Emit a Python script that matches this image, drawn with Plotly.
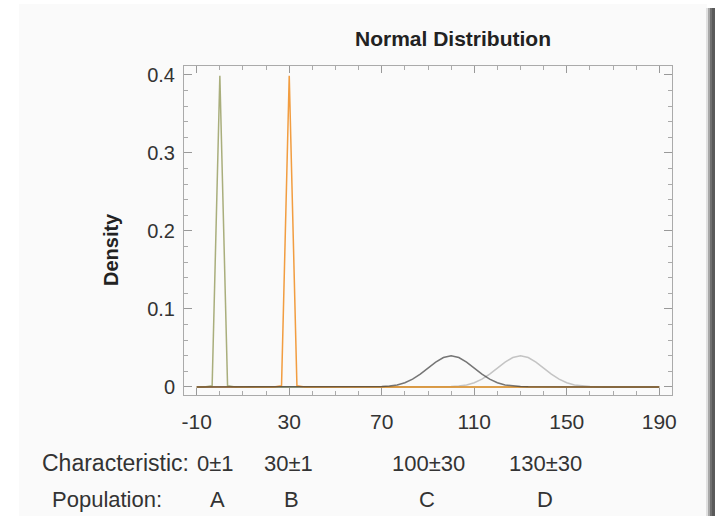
import numpy as np
import plotly.graph_objects as go

# ---- data ----
populations = ["A", "B", "C", "D"]
characteristics = ["0±1", "30±1", "100±30", "130±30"]
means = [0, 30, 100, 130]
sds = [1, 1, 10, 10]
x_start, x_end, n_samples = -10, 190, 61
x_tickvals = [-10, 30, 70, 110, 150, 190]
x_ticktext = ["-10", "30", "70", "110", "150", "190"]
y_tickvals = [0, 0.1, 0.2, 0.3, 0.4]
y_ticktext = ["0", "0.1", "0.2", "0.3", "0.4"]
colors = ["rgba(160,165,110,0.9)", "rgba(240,140,30,0.85)", "rgba(60,60,60,0.7)", "#c4c4c4"]

W, H = 715, 516
L, R, T, B = 184, 43, 66, 121
pw, ph = W - L - R, H - T - B


def px(x):
    return (x - L) / pw


def py(y):
    return (H - B - y) / ph


xs = np.linspace(x_start, x_end, n_samples)
fig = go.Figure()
order = [3, 0, 1, 2]
for i in order:
    m, s = means[i], sds[i]
    dens = np.exp(-0.5 * ((xs - m) / s) ** 2) / (s * np.sqrt(2 * np.pi))
    fig.add_trace(go.Scatter(x=xs, y=dens, mode="lines", name=populations[i],
                             line=dict(color=colors[i], width=1.5),
                             showlegend=False, hoverinfo="skip"))

font_family = "Liberation Sans, Arial, sans-serif"
xtick_font = dict(family=font_family, size=21, color="#333333")
ytick_font = dict(family=font_family, size=20, color="#333333")

fig.update_layout(
    width=W, height=H,
    margin=dict(l=L, r=R, t=T, b=B),
    paper_bgcolor="white",
    plot_bgcolor="#fcfcfc",
    xaxis=dict(range=[-15.5, 195.5], tickvals=x_tickvals, ticktext=x_ticktext, ticks="inside",
               ticklen=7, tickcolor="#999999", showline=True, linecolor="#aaaaaa",
               linewidth=1, mirror="ticks", showgrid=False, zeroline=False,
               tickfont=xtick_font, ticklabelstandoff=8,
               minor=dict(dtick=10, ticks="inside", ticklen=4, tickcolor="#aaaaaa")),
    yaxis=dict(range=[-0.0103, 0.4115], tickvals=y_tickvals, ticktext=y_ticktext,
               ticks="inside", ticklen=8, tickcolor="#999999", showline=True,
               linecolor="#aaaaaa", linewidth=1, mirror="ticks", showgrid=False,
               zeroline=False, tickfont=ytick_font, ticklabelstandoff=4,
               minor=dict(dtick=0.02, ticks="inside", ticklen=4, tickcolor="#aaaaaa")),
)

shapes = [
    dict(type="rect", xref="paper", yref="paper", x0=px(19), x1=px(707), y0=py(516), y1=py(4),
         fillcolor="#fafafa", line=dict(width=0), layer="below"),
]
shadow = [("#e0e0e0", 706, 708), ("#a8a8a8", 708, 710), ("#707070", 710, 712), ("#5a5a5a", 712, 715)]
for c, a, b in shadow:
    shapes.append(dict(type="rect", xref="paper", yref="paper", x0=px(a), x1=px(b),
                       y0=py(516), y1=py(8), fillcolor=c, line=dict(width=0), layer="below"))
fig.update_layout(shapes=shapes)


def note(text, x, y, size, color="#333333", xanchor="center", angle=0):
    return dict(text=text, x=px(x), y=py(y), xref="paper", yref="paper",
                xanchor=xanchor, yanchor="middle", showarrow=False, textangle=angle,
                font=dict(family=font_family, size=size, color=color))


ann = [
    note("<b>Normal Distribution</b>", 453, 38, 21, "#222222"),
    note("<b>Density</b>", 111, 250, 20, "#222222", angle=-90),
    note("Characteristic:", 191, 463, 23, xanchor="right"),
    note("Population:", 164, 500, 22, xanchor="right"),
]
char_px = [215, 288, 428, 545]
pop_px = [217, 291, 427, 545]
for i in range(4):
    ann.append(note(characteristics[i], char_px[i], 463, 22))
    ann.append(note(populations[i], pop_px[i], 500, 22))
fig.update_layout(annotations=ann)

fig.write_html("out.html")
